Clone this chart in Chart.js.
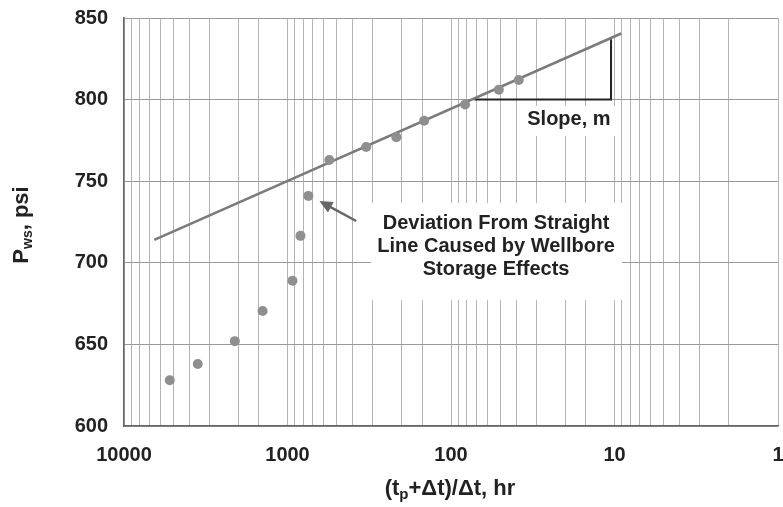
<!DOCTYPE html>
<html>
<head>
<meta charset="utf-8">
<script src="https://cdn.jsdelivr.net/npm/chart.js@4/dist/chart.umd.min.js"></script>
<style>
  html, body { margin: 0; padding: 0; background: #fff; }
  #wrap { width: 783px; height: 507px; }
</style>
</head>
<body>
<div id="wrap"><canvas id="horner"></canvas></div>
<script>
// Horner ratio (tp+dt)/dt and shut-in pressure
const hornerTime = [5250, 3540, 2100, 1420, 932, 833, 745, 555, 330, 216, 146, 82, 51, 38.5];
const pressure   = [628, 638, 652, 670.5, 689, 716.5, 741, 763, 771, 777, 787, 797, 806, 812];

// fitted straight line (two ends)
const lineTime = [6530, 9.1];
const linePws  = [714, 840.5];

// slope triangle corners
const triTime = [72, 10.5, 10.5];
const triPws  = [800, 800, 837];

const xTickLabels = [10000, 1000, 100, 10, 1];
const yTicks = [600, 650, 700, 750, 800, 850];

const FONT = "'Liberation Sans', Arial, sans-serif";
const toPts = (xs, ys) => xs.map((x, i) => ({ x: x, y: ys[i] }));

// draws text pieces [text, font, dy] one after another, centred on x
function drawPieces(ctx, pieces, cx, y) {
  let w = 0;
  pieces.forEach(p => { ctx.font = p[1]; w += ctx.measureText(p[0]).width; });
  let x = cx - w / 2;
  pieces.forEach(p => {
    ctx.font = p[1];
    ctx.fillText(p[0], x, y + p[2]);
    x += ctx.measureText(p[0]).width;
  });
}

// white boxes with notes, arrow, axis titles with subscripts
const notesPlugin = {
  id: "notes",
  beforeDatasetsDraw(chart) {
    const ctx = chart.ctx;
    const xs = chart.scales.x, ys = chart.scales.y;
    ctx.save();
    ctx.fillStyle = "#fff";
    // box behind the wellbore storage note
    let cx = xs.getPixelForValue(53), cy = ys.getPixelForValue(714);
    ctx.fillRect(cx - 125, cy - 37, 251, 97);
    // box behind slope label
    let sx = xs.getPixelForValue(19), sy = ys.getPixelForValue(787.5);
    ctx.fillRect(sx - 49, sy - 14, 100, 30);

    ctx.fillStyle = "#222";
    ctx.font = "bold 20px " + FONT;
    ctx.textAlign = "center";
    ctx.textBaseline = "alphabetic";
    ctx.fillText("Deviation From Straight", cx, cy - 11);
    ctx.fillText("Line Caused by Wellbore", cx, cy + 12);
    ctx.fillText("Storage Effects", cx, cy + 35);
    ctx.fillText("Slope, m", sx, sy + 5);
    ctx.restore();
  },
  afterDatasetsDraw(chart) {
    const ctx = chart.ctx;
    const xs = chart.scales.x, ys = chart.scales.y;
    const x0 = xs.getPixelForValue(380), y0 = ys.getPixelForValue(725.6);
    const x1 = xs.getPixelForValue(638), y1 = ys.getPixelForValue(737.9);
    const ang = Math.atan2(y1 - y0, x1 - x0);
    const c = Math.cos(ang), s = Math.sin(ang);
    ctx.save();
    ctx.strokeStyle = "#666";
    ctx.fillStyle = "#666";
    ctx.lineWidth = 2.5;
    ctx.beginPath();
    ctx.moveTo(x0, y0);
    ctx.lineTo(x1 - 8 * c, y1 - 8 * s);
    ctx.stroke();
    ctx.beginPath();
    ctx.moveTo(x1, y1);
    ctx.lineTo(x1 - 13 * c + 6 * s, y1 - 13 * s - 6 * c);
    ctx.lineTo(x1 - 13 * c - 6 * s, y1 - 13 * s + 6 * c);
    ctx.closePath();
    ctx.fill();
    ctx.restore();
  },
  afterDraw(chart) {
    const ctx = chart.ctx;
    ctx.save();
    ctx.fillStyle = "#222";
    ctx.textAlign = "left";
    ctx.textBaseline = "alphabetic";

    // x title: (tp+Δt)/Δt, hr
    drawPieces(ctx, [
      ["(t", "bold 22px " + FONT, 0],
      ["p", "bold 15px " + FONT, 4],
      ["+\u0394t)/\u0394t, hr", "bold 22px " + FONT, 0]
    ], 450, 495);

    // y title: Pws, psi
    ctx.translate(28, 225);
    ctx.rotate(-Math.PI / 2);
    drawPieces(ctx, [
      ["P", "bold 22px " + FONT, 0],
      ["ws", "bold 14px " + FONT, 4],
      [", psi", "bold 22px " + FONT, 0]
    ], 0, 0);
    ctx.restore();
  }
};

new Chart(document.getElementById("horner"), {
  type: "scatter",
  data: {
    datasets: [
      {
        label: "Straight line",
        data: toPts(lineTime, linePws),
        showLine: true,
        borderColor: "#7a7a7a",
        borderWidth: 2.5,
        pointRadius: 0,
        order: 2
      },
      {
        label: "Slope",
        data: toPts(triTime, triPws),
        showLine: true,
        borderColor: "#222",
        borderWidth: 2,
        pointRadius: 0,
        order: 3
      },
      {
        label: "Pws",
        data: toPts(hornerTime, pressure),
        backgroundColor: "#8f8f8f",
        borderColor: "#8f8f8f",
        pointRadius: 5,
        pointBorderWidth: 0,
        order: 1
      }
    ]
  },
  options: {
    responsive: true,
    maintainAspectRatio: false,
    animation: false,
    layout: { padding: { top: 18, right: 2, left: 0, bottom: 0 } },
    plugins: { legend: { display: false }, tooltip: { enabled: false } },
    scales: {
      x: {
        type: "logarithmic",
        reverse: true,
        min: 1,
        max: 10000,
        grid: { color: "#b4b4b4", lineWidth: 1, drawTicks: false },
        border: { color: "#666", width: 1.5 },
        ticks: {
          autoSkip: false,
          maxRotation: 0,
          padding: 17,
          color: "#222",
          font: { family: FONT, size: 20, weight: "bold" },
          callback: v => xTickLabels.includes(v) ? String(v) : ""
        },
        afterFit: s => { s.height = 81; s.paddingLeft = 0; s.paddingRight = 0; }
      },
      y: {
        min: 600,
        max: 850,
        afterBuildTicks: s => { s.ticks = yTicks.map(v => ({ value: v })); },
        grid: { color: "#999", lineWidth: 1, drawTicks: false },
        border: { color: "#666", width: 1.5 },
        ticks: {
          padding: 16,
          color: "#222",
          font: { family: FONT, size: 20, weight: "bold" }
        },
        afterFit: s => { s.width = 124; s.paddingTop = 0; s.paddingBottom = 0; }
      }
    }
  },
  plugins: [notesPlugin]
});
</script>
</body>
</html>
